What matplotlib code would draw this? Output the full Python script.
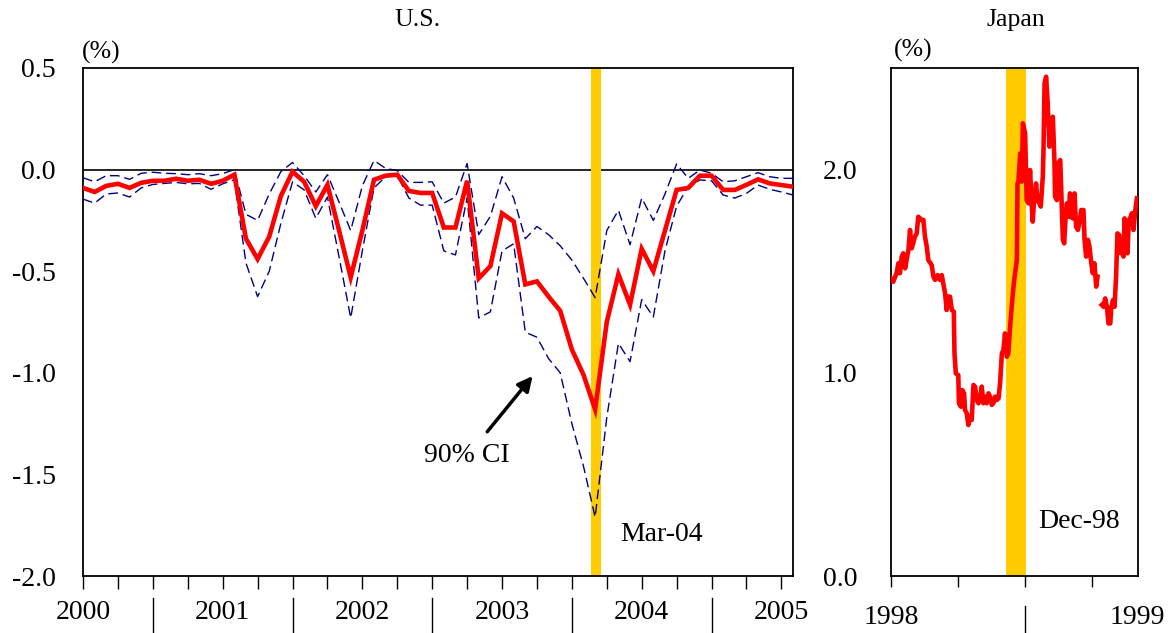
import matplotlib
matplotlib.use("Agg")
import matplotlib.pyplot as plt
import numpy as np

plt.rcParams['font.family'] = ['Liberation Serif', 'DejaVu Serif']
plt.rcParams['axes.unicode_minus'] = False

# ---------------- U.S. data (monthly, Jan 2000 - Feb 2005) ----------------
us_mid = [-0.09, -0.11, -0.08, -0.07, -0.09, -0.065, -0.055, -0.055, -0.045, -0.055,
          -0.05, -0.07, -0.055, -0.025, -0.34, -0.44, -0.33, -0.13, -0.01, -0.06,
          -0.18, -0.075, -0.30, -0.53, -0.30, -0.05, -0.03, -0.025, -0.105, -0.115,
          -0.115, -0.285, -0.285, -0.055, -0.535, -0.475, -0.215, -0.255, -0.565, -0.55,
          -0.625, -0.695, -0.885, -1.01, -1.18, -0.75, -0.515, -0.665, -0.39, -0.50,
          -0.30, -0.10, -0.09, -0.03, -0.03, -0.10, -0.10, -0.075, -0.048, -0.068,
          -0.076, -0.084]
us_upper = [-0.04, -0.06, -0.03, -0.03, -0.048, -0.018, -0.013, -0.018, -0.02, -0.025,
            -0.02, -0.03, -0.02, 0.0, -0.22, -0.25, -0.12, -0.01, 0.035, -0.03,
            -0.11, -0.025, -0.16, -0.30, -0.08, 0.045, 0.006, -0.005, -0.063, -0.063,
            -0.06, -0.165, -0.135, 0.03, -0.32, -0.23, -0.035, -0.14, -0.34, -0.28,
            -0.32, -0.375, -0.445, -0.535, -0.63, -0.30, -0.20, -0.37, -0.14, -0.25,
            -0.12, 0.028, -0.043, -0.002, -0.018, -0.06, -0.055, -0.035, -0.015, -0.035,
            -0.043, -0.043]
us_lower = [-0.145, -0.165, -0.12, -0.115, -0.135, -0.09, -0.073, -0.068, -0.063, -0.07,
            -0.068, -0.097, -0.07, -0.05, -0.46, -0.625, -0.50, -0.265, -0.06, -0.10,
            -0.24, -0.135, -0.43, -0.73, -0.40, -0.09, -0.035, -0.03, -0.14, -0.175,
            -0.175, -0.40, -0.42, -0.14, -0.73, -0.70, -0.40, -0.365, -0.80, -0.825,
            -0.93, -1.0, -1.25, -1.46, -1.71, -1.22, -0.855, -0.945, -0.64, -0.725,
            -0.40, -0.18, -0.084, -0.051, -0.055, -0.125, -0.14, -0.117, -0.076, -0.097,
            -0.11, -0.125]
us_years = ['2000', '2001', '2002', '2003', '2004', '2005']
us_event_label = 'Mar-04'

# ---------------- Japan data (time in months from axis start) ----------------
jp_t = [0.00, 0.10, 0.25, 0.33, 0.40, 0.48, 0.55, 0.63, 0.70, 0.78, 0.85, 0.93, 1.07, 1.15,
        1.22, 1.37, 1.45, 1.52, 1.60, 1.67, 1.82, 1.90, 1.97, 2.09, 2.19, 2.27, 2.34, 2.42,
        2.49, 2.57, 2.64, 2.72, 2.81, 2.84, 2.90, 3.01, 3.04, 3.13, 3.19, 3.27, 3.31, 3.39,
        3.46, 3.54, 3.61, 3.69, 3.76, 3.84, 3.91, 3.99, 4.06, 4.13, 4.21, 4.28, 4.36, 4.43,
        4.51, 4.58, 4.66, 4.73, 4.81, 4.88, 4.96, 5.03, 5.10, 5.18, 5.25, 5.33, 5.40, 5.48,
        5.55, 5.63, 5.66, 5.70, 5.78, 5.85, 5.90, 6.00, 6.07, 6.15, 6.22, 6.30, 6.34, 6.40,
        6.49, 6.55, 6.64, 6.70, 6.79, 6.82, 6.87, 6.94, 7.01, 7.09, 7.15, 7.24, 7.31, 7.34,
        7.42, 7.49, 7.57, 7.61, 7.69, 7.75, 7.81, 7.87, 7.94, 8.01, 8.06, 8.13, 8.21, 8.28,
        8.36, 8.43, 8.51, 8.61, 8.66, 8.73, 8.81, 8.88, 8.96, 9.03, 9.10, 9.18, 9.24, 9.33,
        9.43, 9.51, 9.58, 9.66, 9.73, 9.81, 9.85, 9.93, 10.00, 10.07, 10.13, 10.21, 10.28,
        10.36, 10.40, 10.45, 10.52, 10.58, 10.64, 10.70, 10.78, 10.85, 10.93, 11.00]
jp_v = [1.465, 1.448, 1.490, 1.539, 1.490, 1.572, 1.588, 1.514, 1.555, 1.604, 1.703, 1.613,
        1.670, 1.686, 1.768, 1.752, 1.752, 1.670, 1.621, 1.555, 1.530, 1.473, 1.457, 1.481,
        1.457, 1.481, 1.440, 1.391, 1.309, 1.375, 1.375, 1.309, 1.301, 1.096, 0.997, 0.989,
        0.850, 0.833, 0.915, 0.899, 0.817, 0.801, 0.743, 0.784, 0.768, 0.940, 0.932, 0.866,
        0.850, 0.883, 0.932, 0.850, 0.883, 0.850, 0.899, 0.883, 0.842, 0.850, 0.883, 0.866,
        0.874, 0.948, 1.096, 1.112, 1.194, 1.079, 1.096, 1.227, 1.325, 1.424, 1.490, 1.555,
        1.932, 1.941, 2.080, 1.941, 2.228, 2.178, 1.850, 1.834, 1.998, 1.818, 1.744, 1.850,
        1.932, 1.850, 1.834, 1.818, 1.965, 2.080, 2.425, 2.457, 2.326, 2.113, 2.244, 2.260,
        2.047, 1.867, 1.850, 2.031, 2.047, 1.916, 1.654, 1.637, 1.768, 1.834, 1.768, 1.883,
        1.768, 1.760, 1.883, 1.719, 1.703, 1.736, 1.801, 1.801, 1.654, 1.572, 1.654, 1.621,
        1.539, 1.490, 1.539, 1.424, 1.473, np.nan, 1.334, 1.325, 1.366, 1.325, 1.243, 1.243,
        1.317, 1.358, 1.325, 1.473, 1.686, 1.678, 1.588, 1.654, 1.572, 1.760, 1.604, 1.588,
        1.752, 1.760, 1.785, 1.703, 1.801, 1.859]
jp_years = ['1998', '1999']
jp_event_label = 'Dec-98'

# ---------------- figure ----------------
W, H = 1168, 633
fig = plt.figure(figsize=(W / 100, H / 100), dpi=100)

def px_axes(x0, x1, y0, y1):
    return fig.add_axes([x0 / W, 1 - y1 / H, (x1 - x0) / W, (y1 - y0) / H])

RED = '#FF0000'
NAVY = '#000080'
GOLD = '#FFCC00'
FS = 20
FS_T = 18.5

# ---- U.S. panel ----
ax = px_axes(83, 793, 68, 576)
x = np.arange(len(us_mid))
ax.axhline(0, color='black', lw=1.2, zorder=1)
ax.axvspan(43.65, 44.5, color=GOLD, lw=0, zorder=2)
ax.plot(x, us_upper, color=NAVY, lw=1.0, ls=(0, (7, 3.5)), zorder=3)
ax.plot(x, us_lower, color=NAVY, lw=1.0, ls=(0, (7, 3.5)), zorder=3)
ax.plot(x, us_mid, color=RED, lw=3.3, zorder=4, solid_joinstyle='miter')
ax.set_xlim(0, 61)
ax.set_ylim(-2.0, 0.5)
ax.set_yticks(np.arange(-2.0, 0.51, 0.5))
ax.set_yticklabels([f'{v:.1f}' for v in np.arange(-2.0, 0.51, 0.5)], fontsize=FS)
ax.tick_params(axis='y', length=0, pad=19.5)
ax.set_xticks(np.arange(0, 61, 3))
ax.set_xticklabels([])
ax.tick_params(axis='x', direction='out', length=9, width=1.0)
for s in ax.spines.values():
    s.set_linewidth(1.3)

trans = ax.get_xaxis_transform()
for k, lab in enumerate(us_years):
    ax.text(12 * k, -0.072, lab, transform=trans, ha='center', va='center', fontsize=FS, clip_on=False)
for k in range(5):
    ax.plot([12 * k + 6, 12 * k + 6], [-0.043, -0.11], transform=trans, color='black', lw=1.0, clip_on=False)

ax.text(0.025, 1.03, '(%)', transform=ax.transAxes, ha='center', va='center', fontsize=FS_T)
ax.annotate('', xy=(38.63, -1.016), xytext=(34.73, -1.29),
            arrowprops=dict(arrowstyle='-|>', color='black', lw=2.5, mutation_scale=22, shrinkA=0, shrinkB=0))
ax.text(33.0, -1.405, '90% CI', ha='center', va='center', fontsize=FS)
ax.text(49.74, -1.798, us_event_label, ha='center', va='center', fontsize=FS)

# ---- Japan panel ----
bx = px_axes(891, 1138, 68, 576)
bx.axvspan(5.15, 6.03, color=GOLD, lw=0, zorder=2)
bx.plot(jp_t, jp_v, color=RED, lw=3.3, zorder=4)
bx.set_xlim(0, 11.05)
bx.set_ylim(0, 2.5)
bx.set_yticks([0, 1, 2])
bx.set_yticklabels(['0.0', '1.0', '2.0'], fontsize=FS)
bx.tick_params(axis='y', length=0, pad=24)
bx.set_xticks([0, 3, 6, 9])
bx.set_xticklabels([])
bx.tick_params(axis='x', direction='out', length=8, width=1.0)
for s in bx.spines.values():
    s.set_linewidth(1.3)
btrans = bx.get_xaxis_transform()
bx.text(0, -0.081, jp_years[0], transform=btrans, ha='center', va='center', fontsize=FS, clip_on=False)
bx.text(11.0, -0.081, jp_years[1], transform=btrans, ha='center', va='center', fontsize=FS, clip_on=False)
bx.plot([6, 6], [-0.06, -0.11], transform=btrans, color='black', lw=1.0, clip_on=False)
bx.text(0.09, 1.035, '(%)', transform=bx.transAxes, ha='center', va='center', fontsize=FS_T)
bx.text(8.40, 0.266, jp_event_label, ha='center', va='center', fontsize=FS)

fig.text(417 / W, 1 - 20 / H, 'U.S.', ha='center', va='center', fontsize=FS_T)
fig.text(1016 / W, 1 - 20 / H, 'Japan', ha='center', va='center', fontsize=FS_T)

fig.savefig('out.png', dpi=100)
